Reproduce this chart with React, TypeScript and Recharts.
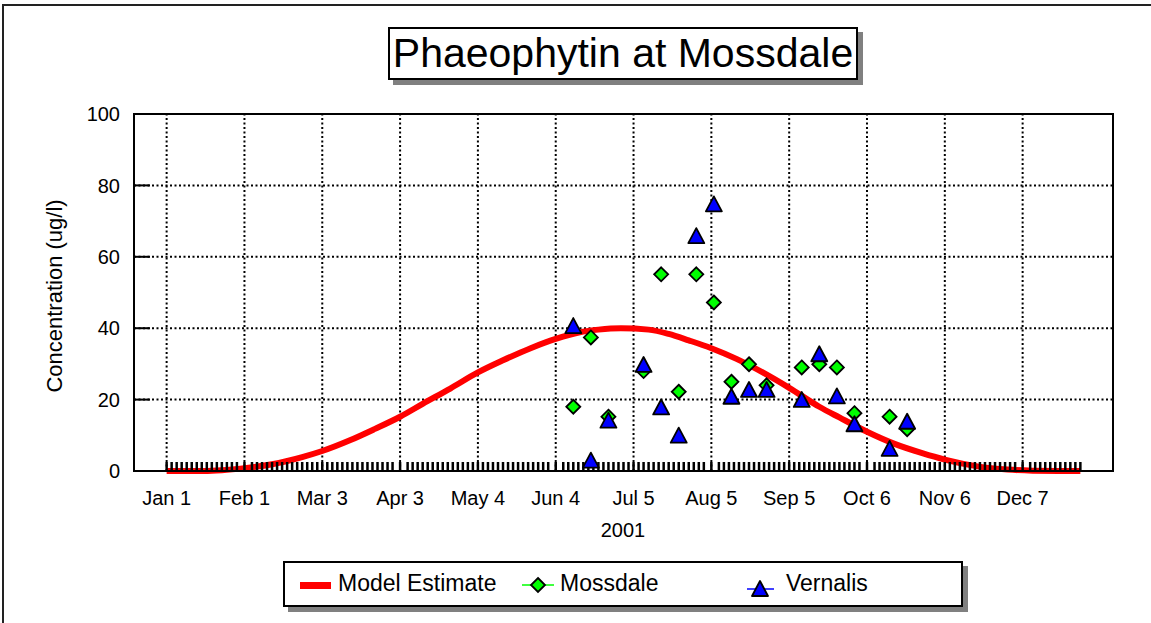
import React from 'react';
import { ComposedChart, Line, Scatter, XAxis, YAxis, CartesianGrid, ReferenceLine, ReferenceArea } from 'recharts';

const FONT = '"Liberation Sans", Arial, sans-serif';

// x is days since Jan 1 (2001)
const majorDays = [0, 31, 62, 93, 124, 155, 186, 217, 248, 279, 310, 341];
const majorLabels = ['Jan 1', 'Feb 1', 'Mar 3', 'Apr 3', 'May 4', 'Jun 4', 'Jul 5', 'Aug 5', 'Sep 5', 'Oct 6', 'Nov 6', 'Dec 7'];
const yTicks = [0, 20, 40, 60, 80, 100];

const sampleDays = [162, 169, 176, 190, 197, 204, 211, 218, 225, 232, 239, 253, 260, 267, 274, 288, 295];
const mossdale = [18, 37.4, 15.2, 28, 55.1, 22.2, 55.1, 47.2, 25, 29.9, 24, 29, 29.9, 29, 16.2, 15.2, 11.7];
const vernalis = [40.6, 2.9, 14.1, 29.7, 17.8, 9.9, 65.8, 74.7, 20.8, 22.7, 22.7, 19.9, 32.7, 20.9, 13.1, 6.2, 13.8];

const modelDays = [0, 15, 22, 31, 42, 54, 62, 73, 83, 93, 102, 113, 124, 134, 145, 155, 165, 172, 181, 192, 200, 208, 217, 227, 238, 248, 260, 268, 279, 290, 301, 310, 323, 335, 345, 364];
const modelValues = [0, 0, 0.2, 0.8, 1.9, 3.9, 5.6, 8.6, 11.8, 15.2, 18.8, 23.1, 27.6, 31.0, 34.4, 37.0, 38.9, 39.6, 40.0, 39.6, 38.4, 36.6, 34.4, 31.4, 27.4, 23.3, 18.0, 15.0, 11.0, 7.6, 5.0, 3.2, 1.3, 0.4, 0.1, 0];

const modelData = modelDays.map((day, i) => ({ day, value: modelValues[i] }));
const mossData = sampleDays.map((day, i) => ({ day, value: mossdale[i] }));
const vernData = sampleDays.map((day, i) => ({ day, value: vernalis[i] }));

// minor tick marks (every 2 days) along the bottom, merged with the labelled majors
const minorDays = Array.from({ length: 183 }, (_, i) => i * 2).filter(
  (d) => !majorDays.some((m) => Math.abs(m - d) === 1)
);
const xTicks = Array.from(new Set([...minorDays, ...majorDays])).sort((a, b) => a - b);

const fmtX = (v: number) => {
  const i = majorDays.indexOf(v);
  return i >= 0 ? majorLabels[i] : '';
};

const Diamond = (props: any) => {
  const { cx, cy } = props;
  const r = 7;
  return (
    <polygon
      points={`${cx},${cy - r} ${cx + r},${cy} ${cx},${cy + r} ${cx - r},${cy}`}
      fill="#00ff00"
      stroke="#000"
      strokeWidth={1.8}
    />
  );
};

const Triangle = (props: any) => {
  const { cx, cy } = props;
  return (
    <polygon
      points={`${cx},${cy - 8} ${cx + 8},${cy + 7} ${cx - 8},${cy + 7}`}
      fill="#0000ff"
      stroke="#000"
      strokeWidth={1.8}
      strokeLinejoin="round"
    />
  );
};

const abs = (s: React.CSSProperties): React.CSSProperties => ({ position: 'absolute', ...s });

export default function App() {
  return (
    <div style={abs({ left: 0, top: 0, width: 1151, height: 623, overflow: 'hidden', background: '#fff', fontFamily: FONT })}>
      <div style={abs({ left: 2, top: 4, width: 1200, height: 700, border: '2px solid #222' })} />

      <div style={abs({ left: 0, top: 0 })}>
        <ComposedChart width={1151} height={623} margin={{ top: 114, right: 38, bottom: 112, left: 74 }}>
          <CartesianGrid vertical={false} stroke="#000" strokeWidth={2} strokeDasharray="2 2.5" />
          {majorDays.map((d) => (
            <ReferenceLine key={d} x={d} stroke="#000" strokeWidth={2} strokeDasharray="2 2.5" />
          ))}
          <ReferenceArea x1={-13} x2={377} y1={0} y2={100} fill="none" stroke="#000" strokeWidth={2} />
          <XAxis
            dataKey="day"
            type="number"
            domain={[-13, 377]}
            ticks={xTicks}
            interval={0}
            tickFormatter={fmtX}
            tickSize={-9}
            tickMargin={29}
            height={40}
            allowDataOverflow
            axisLine={{ stroke: '#000', strokeWidth: 2 }}
            tickLine={{ stroke: '#000', strokeWidth: 2.5 }}
            tick={{ fill: '#000', fontSize: 20, fontFamily: FONT }}
          />
          <YAxis
            type="number"
            domain={[0, 100]}
            ticks={yTicks}
            width={60}
            tickSize={-16}
            tickMargin={30}
            axisLine={{ stroke: '#000', strokeWidth: 2 }}
            tickLine={{ stroke: '#000', strokeWidth: 2 }}
            tick={{ fill: '#000', fontSize: 20, fontFamily: FONT }}
          />
          <Line
            data={modelData}
            dataKey="value"
            type="monotone"
            stroke="#ff0000"
            strokeWidth={6}
            dot={false}
            isAnimationActive={false}
          />
          <Scatter data={mossData} dataKey="value" shape={<Diamond />} isAnimationActive={false} />
          <Scatter data={vernData} dataKey="value" shape={<Triangle />} isAnimationActive={false} />
        </ComposedChart>
      </div>

      <div
        style={abs({
          left: 55,
          top: 296,
          transform: 'translate(-50%, -50%) rotate(-90deg)',
          whiteSpace: 'nowrap',
          fontSize: 22,
          color: '#000',
        })}
      >
        Concentration (ug/l)
      </div>
      <div style={abs({ left: 623, top: 530, transform: 'translate(-50%, -50%)', fontSize: 20, color: '#000' })}>2001</div>

      <div
        style={abs({
          left: 388,
          top: 27,
          width: 470,
          height: 53,
          boxSizing: 'border-box',
          border: '2px solid #000',
          background: '#fff',
          boxShadow: '5px 5px 0 #808080',
          fontSize: 41,
          lineHeight: '49px',
          textAlign: 'center',
          whiteSpace: 'nowrap',
          color: '#000',
        })}
      >
        Phaeophytin at Mossdale
      </div>

      <div
        style={abs({
          left: 283,
          top: 561,
          width: 680,
          height: 46,
          boxSizing: 'border-box',
          border: '2px solid #000',
          background: '#fff',
          boxShadow: '5px 5px 0 #808080',
        })}
      />
      <div style={abs({ left: 300, top: 582, width: 31, height: 7, background: '#ff0000' })} />
      <div style={abs({ left: 338, top: 571, fontSize: 23, lineHeight: '24px', color: '#000' })}>Model Estimate</div>
      <svg style={abs({ left: 520, top: 574 })} width={40} height={22}>
        <line x1={2} y1={11} x2={34} y2={11} stroke="#00ff00" strokeWidth={1.5} />
        <Diamond cx={18} cy={11} />
      </svg>
      <div style={abs({ left: 560, top: 571, fontSize: 23, lineHeight: '24px', color: '#000' })}>Mossdale</div>
      <svg style={abs({ left: 744, top: 576 })} width={40} height={24}>
        <line x1={3} y1={13} x2={30} y2={13} stroke="#0000ff" strokeWidth={1.5} />
        <Triangle cx={16} cy={13} />
      </svg>
      <div style={abs({ left: 786, top: 571, fontSize: 23, lineHeight: '24px', color: '#000' })}>Vernalis</div>
    </div>
  );
}
